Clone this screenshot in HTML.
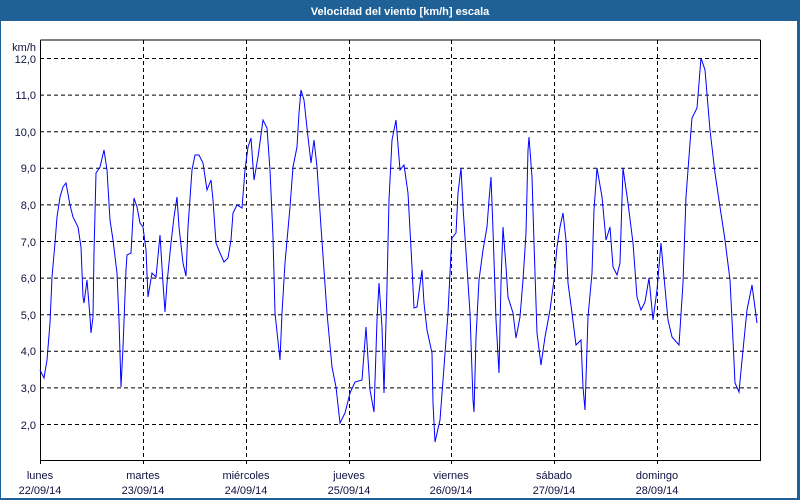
<!DOCTYPE html>
<html><head><meta charset="utf-8"><style>
html,body{margin:0;padding:0;background:#fff}
svg{display:block;font-family:"Liberation Sans",sans-serif}
</style></head><body>
<svg width="800" height="500" viewBox="0 0 800 500" xmlns="http://www.w3.org/2000/svg">
<rect x="0" y="0" width="800" height="500" fill="#1f6096"/>
<rect x="1" y="21" width="796" height="477" fill="#fff"/>
<text x="400" y="15" fill="#fff" font-size="11" font-weight="bold" text-anchor="middle">Velocidad del viento [km/h] escala</text>
<g stroke="#000" stroke-width="1" stroke-dasharray="4,3" fill="none">
<path d="M40 58.5H760M40 95.1H760M40 131.7H760M40 168.3H760M40 204.9H760M40 241.5H760M40 278.1H760M40 314.7H760M40 351.3H760M40 387.9H760M40 424.5H760"/>
<path d="M143.5 40V460M246.5 40V460M349.5 40V460M451.5 40V460M554.5 40V460M657.5 40V460"/>
</g>
<path d="M40.5 40V460.5H760.5V40M40.5 40H760.5" stroke="#000" fill="none"/>
<path d="M40.5 460v4M143.5 460v4M246.5 460v4M349.5 460v4M451.5 460v4M554.5 460v4M657.5 460v4" stroke="#000"/>
<g font-size="11" fill="#101040" text-anchor="end">
<text x="36" y="51">km/h</text>
<text x="36" y="63">12,0</text><text x="36" y="99">11,0</text><text x="36" y="136">10,0</text>
<text x="36" y="172">9,0</text><text x="36" y="209">8,0</text><text x="36" y="246">7,0</text>
<text x="36" y="282">6,0</text><text x="36" y="319">5,0</text><text x="36" y="355">4,0</text>
<text x="36" y="392">3,0</text><text x="36" y="429">2,0</text>
</g>
<g font-size="11" fill="#101040" text-anchor="middle">
<text x="40" y="479">lunes</text><text x="40" y="494">22/09/14</text>
<text x="143" y="479">martes</text><text x="143" y="494">23/09/14</text>
<text x="246" y="479">miércoles</text><text x="246" y="494">24/09/14</text>
<text x="349" y="479">jueves</text><text x="349" y="494">25/09/14</text>
<text x="451" y="479">viernes</text><text x="451" y="494">26/09/14</text>
<text x="554" y="479">sábado</text><text x="554" y="494">27/09/14</text>
<text x="657" y="479">domingo</text><text x="657" y="494">28/09/14</text>
</g>
<polyline fill="none" stroke="#0000ff" stroke-width="1" points="
40,370 44,378 47,360 50,323 52,277 55,243 57,217 60,197 63,187 66,183 70,205 73,217 78,227 81,247 83,297 84,303 87,280 90,317 91,333 93,317 94,253 96,173 100,167 104,150 107,170 110,220 113,240 117,273 119,320 121,387 123,347 126,270 127,255 131,253 134,198 137,207 140,223 143,227 146,250 148,297 152,273 156,277 160,235 163,283 165,312 167,283 171,243 174,217 177,197 179,227 183,263 186,276 188,227 192,170 195,155 199,155 203,163 207,190 211,180 213,200 216,243 220,253 224,262 228,258 231,240 233,213 237,205 242,208 245,170 248,147 251,138 254,180 258,157 263,120 267,128 270,170 273,237 275,313 280,360 282,313 285,263 290,207 293,167 297,147 299,113 301,90 304,100 308,137 311,163 314,140 317,167 321,227 327,313 332,367 336,387 340,423 345,413 350,393 355,382 362,380 366,327 370,390 374,412 377,320 379,283 382,327 384,393 387,287 389,200 392,140 396,120 400,170 404,165 408,193 412,267 414,308 417,307 422,270 424,303 427,330 432,353 433,403 435,442 440,420 444,367 448,313 451,253 452,238 456,233 458,193 461,168 463,207 467,267 470,313 473,400 474,412 476,337 479,280 483,250 487,227 489,200 491,177 493,230 496,320 499,373 501,283 503,227 506,267 508,297 513,313 516,338 520,317 523,280 526,233 528,150 529,137 532,177 534,243 537,333 541,365 545,337 550,310 554,280 557,247 560,227 563,213 566,240 568,283 572,313 576,345 581,340 583,387 585,410 588,317 592,273 594,210 597,168 602,197 606,240 610,227 613,267 617,275 620,263 623,168 628,203 633,243 637,297 641,310 645,302 649,278 653,320 657,290 661,243 664,277 668,320 672,337 679,345 683,283 686,197 690,143 692,118 697,108 701,58 705,70 710,130 715,173 720,207 725,240 730,280 733,340 735,383 739,392 743,350 747,310 752,285 757,323"/>
</svg>
</body></html>
